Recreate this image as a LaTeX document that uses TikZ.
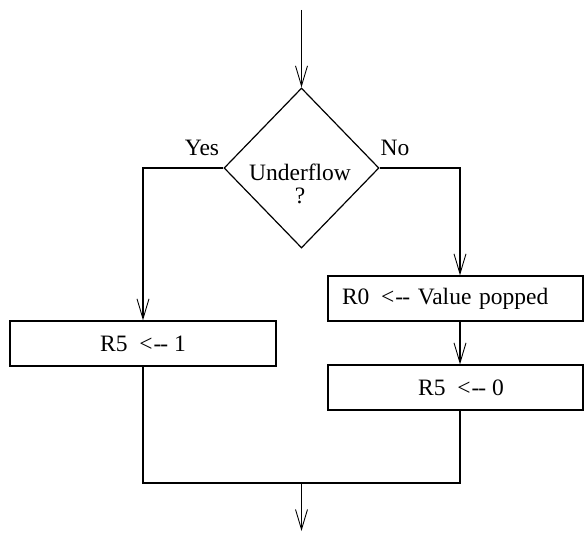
\documentclass[tikz,border=0pt]{standalone}
\usepackage{fontspec}
\setmainfont{Liberation Serif}
\usetikzlibrary{arrows.meta,shapes.geometric}
\newcommand{\larr}{<\kern1pt-\kern-1pt-}
\begin{document}
\begin{tikzpicture}[x=1pt,y=-1pt,line width=1.2pt,
  flow/.style={-{Straight Barb[length=20pt,width=12pt,line width=0.9pt]}},
  txt/.style={font=\fontsize{23.5}{23}\selectfont,inner sep=0pt},
  box/.style={draw,rectangle,minimum height=45pt,inner sep=0pt,font=\fontsize{23.5}{23}\selectfont}]
\useasboundingbox (0,0) rectangle (584,535);
\node[draw,diamond,minimum width=155pt,minimum height=160pt,inner sep=0pt] (d) at (301.5,168) {};
\node[txt,align=center] (q) at (300,184) {Underflow\\?};
\node[txt] (yes) at (202,148) {Yes};
\node[txt] (no) at (395,148) {No};
\node[box,minimum width=266pt] (b1) at (143,343.5) {R5\ \ \larr\ 1};
\node[box,minimum width=255pt,text width=227pt,align=left,inner xsep=14pt] (b2) at (455.5,298.5) {R0\ \,\larr\ Value popped};
\node[box,minimum width=255pt] (b3) at (455.5,387.5) {\hspace{11pt}R5\ \ \larr\ 0};
\coordinate (start) at (301.5,10);
\coordinate (rx) at (460,0);
\coordinate (m) at (301.5,483);
\coordinate (end) at (301.5,531);
\draw[flow] (start) -- (d.north);
\draw[flow] (d.west) -| (b1.north);
\draw[flow] (d.east) -| (b2.north -| rx);
\draw[flow] (b2.south -| rx) -- (b3.north -| rx);
\draw (b1.south) |- (m);
\draw (b3.south -| rx) |- (m);
\draw[flow] (m) -- (end);
\end{tikzpicture}
\end{document}
